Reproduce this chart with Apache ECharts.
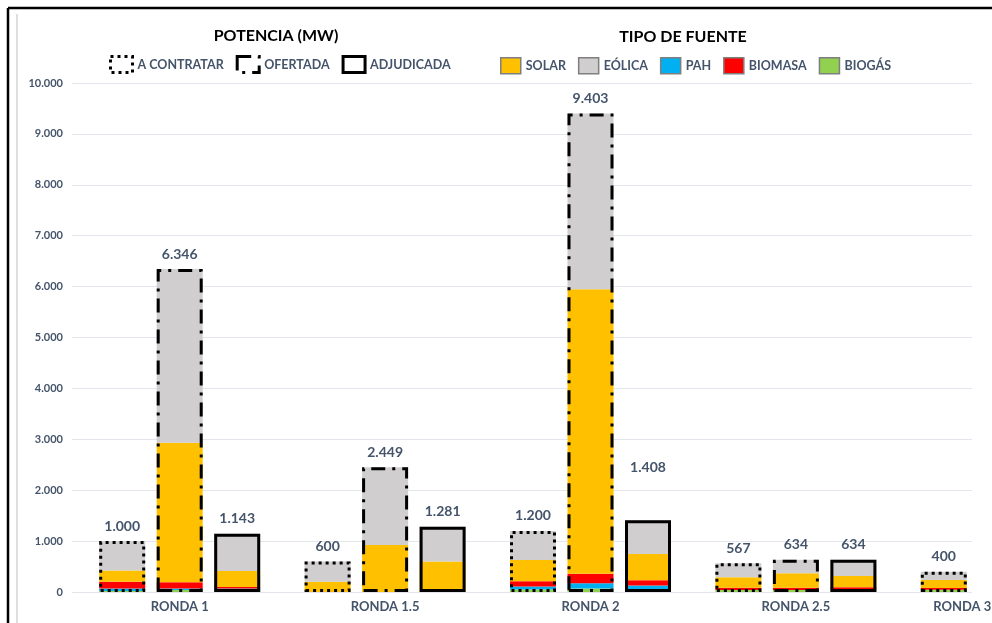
<!DOCTYPE html>
<html>
<head>
<meta charset="utf-8">
<script src="https://cdn.jsdelivr.net/npm/echarts@6/dist/echarts.min.js"></script>
<style>
  html, body { margin: 0; padding: 0; background: #fff; }
  #chart { width: 992px; height: 623px; }
</style>
</head>
<body>
<div id="chart"></div>
<script>
// Rondas de licitación
const categories = ['RONDA 1', 'RONDA 1.5', 'RONDA 2', 'RONDA 2.5', 'RONDA 3'];

// Potencia total por etapa (MW)
const totalContratar  = [1000, 600, 1200, 567, 400];
const totalOfertada   = [6346, 2449, 9403, 634, null];
const totalAdjudicada = [1143, 1281, 1408, 634, null];

// Potencia a contratar por tipo de fuente (MW)
const contratarSolar   = [220, 200, 420, 204, 155];
const contratarEolica  = [580, 400, 570, 278, 165];
const contratarPah     = [50, 0, 60, 0, 0];
const contratarBiomasa = [130, 0, 100, 45, 35];
const contratarBiogas  = [20, 0, 50, 40, 45];

// Potencia ofertada por tipo de fuente (MW)
const ofertadaSolar   = [2740, 925, 5590, 282, null];
const ofertadaEolica  = [3416, 1524, 3453, 267, null];
const ofertadaPah     = [30, 0, 100, 0, null];
const ofertadaBiomasa = [120, 0, 190, 45, null];
const ofertadaBiogas  = [40, 0, 70, 40, null];

// Potencia adjudicada por tipo de fuente (MW)
const adjudicadaSolar   = [315, 600, 517, 219, null];
const adjudicadaEolica  = [728, 681, 661, 320, null];
const adjudicadaPah     = [35, 0, 70, 0, null];
const adjudicadaBiomasa = [30, 0, 100, 45, null];
const adjudicadaBiogas  = [35, 0, 60, 50, null];

// Eje de potencia
const yMin = 0, yMax = 10000, yStep = 1000;

const FONT = 'Lato, "Open Sans", sans-serif';
const TEXT = '#44546A';

function miles(v) {
  return String(Math.round(v)).replace(/\B(?=(\d{3})+(?!\d))/g, '.');
}

// Tipos de fuente, de abajo hacia arriba en cada barra
const fuels = [
  { name: 'BIOGÁS',  color: '#92D050' },
  { name: 'PAH',     color: '#00B0F0' },
  { name: 'BIOMASA', color: '#FF0000' },
  { name: 'SOLAR',   color: '#FFC000' },
  { name: 'EÓLICA',  color: '#D0CECE' }
];

const stages = [
  { name: 'A CONTRATAR', stack: 'contratar', totals: totalContratar,
    dash: [3, 4],
    parts: [contratarBiogas, contratarPah, contratarBiomasa, contratarSolar, contratarEolica] },
  { name: 'OFERTADA', stack: 'ofertada', totals: totalOfertada,
    dash: [14, 7, 3, 7],
    parts: [ofertadaBiogas, ofertadaPah, ofertadaBiomasa, ofertadaSolar, ofertadaEolica] },
  { name: 'ADJUDICADA', stack: 'adjudicada', totals: totalAdjudicada,
    dash: 'solid',
    parts: [adjudicadaBiogas, adjudicadaPah, adjudicadaBiomasa, adjudicadaSolar, adjudicadaEolica] }
];

const BAR_W = 46;
const BAR_GAP = '25%';

const series = [];
stages.forEach(st => {
  fuels.forEach((f, i) => {
    series.push({
      type: 'bar',
      name: f.name,
      stack: st.stack,
      xAxisIndex: 0,
      yAxisIndex: 0,
      barWidth: BAR_W,
      barGap: BAR_GAP,
      itemStyle: { color: f.color },
      emphasis: { disabled: true },
      data: st.parts[i]
    });
  });
});

// Contorno de cada etapa con el total rotulado encima
stages.forEach(st => {
  series.push({
    type: 'bar',
    name: st.name,
    xAxisIndex: 1,
    yAxisIndex: 0,
    barWidth: BAR_W,
    barGap: BAR_GAP,
    z: 5,
    itemStyle: {
      color: 'rgba(0,0,0,0)',
      borderColor: '#000',
      borderWidth: 3,
      borderType: st.dash
    },
    emphasis: { disabled: true },
    label: {
      show: true,
      position: 'top',
      distance: 8,
      fontFamily: FONT,
      fontSize: 14,
      fontWeight: 'bold',
      color: TEXT,
      formatter: p => (p.value == null ? '' : miles(p.value))
    },
    data: st.totals.map((v, i) => {
      // el rótulo de 1.408 va más arriba, separado de su barra
      if (st.stack === 'adjudicada' && i === 2) {
        return { value: v, label: { offset: [0, -38] } };
      }
      return v;
    })
  });
});

const legendStageData = stages.map(st => ({
  name: st.name,
  itemStyle: { color: '#fff', borderColor: '#000', borderWidth: 3, borderType: st.dash }
}));
const legendFuelData = ['SOLAR', 'EÓLICA', 'PAH', 'BIOMASA', 'BIOGÁS'].map(n => ({
  name: n,
  itemStyle: { borderColor: '#7F7F7F', borderWidth: 1.5 }
}));

const legendText = { fontFamily: FONT, fontSize: 12.5, fontWeight: 'bold', color: TEXT };

const catData = categories.map((c, i) =>
  i === categories.length - 1
    ? { value: c, textStyle: { align: 'right', padding: [0, 10, 0, 0] } }
    : c
);

const option = {
  animation: false,
  backgroundColor: '#fff',
  title: [
    { text: 'POTENCIA (MW)', left: 276, top: 28, padding: 0, textAlign: 'center',
      textStyle: { fontFamily: FONT, fontSize: 16, fontWeight: 'bold', color: '#000' } },
    { text: 'TIPO DE FUENTE', left: 683, top: 29, padding: 0, textAlign: 'center',
      textStyle: { fontFamily: FONT, fontSize: 16, fontWeight: 'bold', color: '#000' } }
  ],
  legend: [
    { left: 109, top: 55, padding: 0, icon: 'rect', itemWidth: 22, itemHeight: 16, itemGap: 12,
      selectedMode: false, textStyle: legendText, data: legendStageData },
    { left: 500, top: 57, padding: 0, icon: 'rect', itemWidth: 20, itemHeight: 16, itemGap: 12,
      selectedMode: false, textStyle: legendText, data: legendFuelData }
  ],
  grid: [
    { left: 77, right: -112, top: 83, bottom: 31, outerBoundsMode: 'none', containLabel: false },
    { left: 72, right: 20, top: 83, bottom: 31, outerBoundsMode: 'none', containLabel: false }
  ],
  xAxis: [
    { type: 'category', gridIndex: 0, data: catData,
      axisLine: { show: false }, axisTick: { show: false },
      axisLabel: { interval: 0, margin: 8, fontFamily: FONT, fontSize: 13,
                   fontWeight: 'bold', color: TEXT, hideOverlap: false } },
    { type: 'category', gridIndex: 0, data: categories, show: false },
    { type: 'value', gridIndex: 1, show: false, min: 0, max: 1 }
  ],
  yAxis: [
    { type: 'value', gridIndex: 0, min: yMin, max: yMax, interval: yStep,
      axisLine: { show: false }, axisTick: { show: false }, splitLine: { show: false },
      axisLabel: { margin: 14, fontFamily: FONT, fontSize: 11, fontWeight: 'bold',
                   color: TEXT, formatter: v => miles(v) } },
    { type: 'value', gridIndex: 1, min: yMin, max: yMax, interval: yStep,
      axisLine: { show: false }, axisTick: { show: false }, axisLabel: { show: false },
      splitLine: { show: true, lineStyle: { color: '#E3E6EC', width: 1 } } }
  ],
  graphic: [
    { type: 'line', shape: { x1: 8, y1: 8, x2: 992, y2: 8 },
      style: { stroke: '#000', lineWidth: 2.5 } },
    { type: 'line', shape: { x1: 8, y1: 8, x2: 8, y2: 623 },
      style: { stroke: '#000', lineWidth: 2.5 } },
    { type: 'line', shape: { x1: 17, y1: 14, x2: 17, y2: 623 },
      style: { stroke: '#BFBFBF', lineWidth: 1 } }
  ],
  series: series
};

const chart = echarts.init(document.getElementById('chart'), null, { renderer: 'canvas' });
chart.setOption(option);
</script>
</body>
</html>
